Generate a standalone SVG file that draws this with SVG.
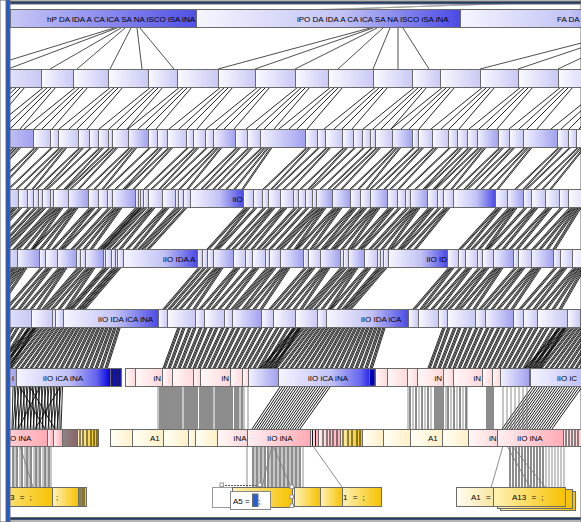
<svg xmlns="http://www.w3.org/2000/svg" width="581" height="522" viewBox="0 0 581 522">
<defs>
<linearGradient id="gA"><stop offset="0" stop-color="#c8c8f6"/><stop offset="1" stop-color="#5050e6"/></linearGradient>
<linearGradient id="gL"><stop offset="0" stop-color="#fafaff"/><stop offset="1" stop-color="#c8c8f5"/></linearGradient>
<linearGradient id="gM"><stop offset="0" stop-color="#f2f2fe"/><stop offset="1" stop-color="#a0a0ef"/></linearGradient>
<linearGradient id="gS"><stop offset="0" stop-color="#f6f6ff"/><stop offset=".55" stop-color="#c2c2f5"/><stop offset="1" stop-color="#4a4ae6"/></linearGradient>
<linearGradient id="gD"><stop offset="0" stop-color="#f4f4ff"/><stop offset=".55" stop-color="#c0c0f6"/><stop offset=".85" stop-color="#6464ee"/><stop offset="1" stop-color="#0000e0"/></linearGradient>
<linearGradient id="gP"><stop offset="0" stop-color="#fff8f8"/><stop offset="1" stop-color="#ffd8da"/></linearGradient>
<linearGradient id="gK"><stop offset="0" stop-color="#fff0f2"/><stop offset="1" stop-color="#ffaab4"/></linearGradient>
<linearGradient id="gY"><stop offset="0" stop-color="#fffff6"/><stop offset="1" stop-color="#fff0c6"/></linearGradient>
<linearGradient id="gY2"><stop offset="0" stop-color="#fffdf2"/><stop offset="1" stop-color="#fae6a0"/></linearGradient>
<linearGradient id="gG"><stop offset="0" stop-color="#fff2b8"/><stop offset="1" stop-color="#f6c200"/></linearGradient>
<clipPath id="cl"><rect x="10" y="4" width="571" height="513"/></clipPath>
</defs>
<style>
rect{stroke:#6a6a6a;stroke-width:1}
.l{fill:url(#gL)}.m{fill:url(#gM)}.s{fill:url(#gS)}.d{fill:url(#gD)}.a{fill:url(#gA)}.p{fill:url(#gP)}.k{fill:url(#gK)}.y{fill:url(#gY)}.y2{fill:url(#gY2)}.g{fill:url(#gG)}.w{fill:#fff;stroke:#9a9a9a}
.sl{stroke:#1a1a1a;stroke-width:1;fill:none}
text{font-family:"Liberation Sans",Arial,sans-serif;font-size:8px;fill:#000}
.e{text-anchor:end}.mid{text-anchor:middle}.ws{word-spacing:3px}
.c path{fill:none;stroke:#000;stroke-width:.85}
.c .gr{stroke:#7a7a7a}
</style>
<rect x="0" y="0" width="581" height="522" fill="#fff" stroke="none"/>
<g clip-path="url(#cl)">
<g id="connectors" class="c">
<path id="e01" style="stroke:#666" d="M318 10L520 3"/>
<path id="e02" style="stroke:#b0b0b0" d="M300 10L600 1"/>
<path id="e12" style="stroke:#222;stroke-width:.8" d="M114 28L-19 69M117 28L8 69M121 28L50 69M125 28L77 69M131 28L110 69M137 28L142 69M140 28L174 69M370 28L218 69M373 28L255 69M377 28L295 69M383 28L338 69M390 28L373 69M398 28L398 69M403 28L429 69M640 28L480 69M640 28L518 69M645 28L558 69"/>
<path id="e23" d="M13 87L-39 129M17 87L-29 129M21 87L-21 129M25 87L-11 129M44 87L-8 129M48 87L2 129M52 87L10 129M56 87L20 129M76 87L24 129M80 87L34 129M84 87L42 129M88 87L52 129M111 87L59 129M115 87L69 129M119 87L77 129M123 87L87 129M151 87L99 129M155 87L109 129M159 87L117 129M163 87L127 129M180 87L128 129M184 87L138 129M188 87L146 129M192 87L156 129M221 87L169 129M225 87L179 129M229 87L187 129M233 87L197 129M258 87L206 129M262 87L216 129M266 87L224 129M270 87L234 129M298 87L246 129M302 87L256 129M306 87L264 129M310 87L274 129M331 87L279 129M335 87L289 129M339 87L297 129M343 87L307 129M376 87L324 129M380 87L334 129M384 87L342 129M388 87L352 129M415 87L363 129M419 87L373 129M423 87L381 129M427 87L391 129M443 87L391 129M447 87L401 129M451 87L409 129M455 87L419 129M483 87L431 129M487 87L441 129M491 87L449 129M495 87L459 129M521 87L469 129M525 87L479 129M529 87L487 129M533 87L497 129M561 87L509 129M565 87L519 129M569 87L527 129M573 87L537 129M603 87L551 129M607 87L561 129M611 87L569 129M615 87L579 129"/>
<path id="e34" d="M14 147L-30 189M17 147L-25 189M20 147L-19 189M35 147L-9 189M38 147L-1 189M52 147L8 189M60 147L16 189M63 147L24 189M66 147L32 189M80 147L36 189M83 147L44 189M91 147L47 189M100 147L56 189M103 147L64 189M110 147L66 189M114 147L70 189M117 147L78 189M130 147L86 189M133 147L94 189M136 147L102 189M150 147L106 189M159 147L115 189M162 147L123 189M169 147L125 189M172 147L133 189M188 147L144 189M195 147L151 189M198 147L159 189M207 147L163 189M215 147L171 189M218 147L179 189M221 147L187 189M237 147L193 189M240 147L201 189M249 147L205 189M252 147L213 189M262 147L218 189M265 147L226 189M268 147L234 189M271 147L242 189M307 147L263 189M310 147L271 189M319 147L275 189M327 147L283 189M330 147L291 189M344 147L300 189M347 147L308 189M355 147L311 189M364 147L320 189M372 147L328 189M377 147L333 189M380 147L341 189M394 147L350 189M397 147L358 189M400 147L366 189M414 147L370 189M420 147L376 189M423 147L384 189M434 147L390 189M437 147L398 189M450 147L406 189M459 147L415 189M462 147L423 189M469 147L425 189M472 147L433 189M479 147L435 189M482 147L443 189M485 147L451 189M500 147L456 189M503 147L464 189M511 147L467 189M514 147L475 189M525 147L481 189M528 147L489 189M531 147L497 189M559 147L515 189M562 147L523 189M570 147L526 189M578 147L534 189M581 147L542 189M584 147L550 189"/>
<use href="#e34" x="1.4"/>
<path id="e45" d="M12 207L-26 249M15 207L-19 249M20 207L-18 249M29 207L-9 249M35 207L-3 249M40 207L2 249M44 207L6 249M51 207L13 249M55 207L17 249M58 207L24 249M61 207L31 249M70 207L32 249M73 207L39 249M76 207L46 249M90 207L52 249M93 207L59 249M100 207L62 249M109 207L71 249M114 207L76 249M117 207L83 249M120 207L90 249M136 207L98 249M139 207L101 249M141 207L103 249M145 207L107 249M150 207L112 249M153 207L119 249M164 207L126 249M167 207L133 249M176 207L138 249M180 207L142 249M185 207L147 249M245 207L207 249M248 207L214 249M255 207L217 249M264 207L226 249M270 207L232 249M273 207L239 249M282 207L244 249M285 207L251 249M295 207L257 249M300 207L262 249M307 207L269 249M314 207L276 249M318 207L280 249M321 207L287 249M324 207L294 249M334 207L296 249M337 207L303 249M340 207L310 249M352 207L314 249M355 207L321 249M362 207L324 249M365 207L331 249M372 207L334 249M375 207L341 249M378 207L348 249M389 207L351 249M392 207L358 249M399 207L361 249M407 207L369 249M412 207L374 249M415 207L381 249M418 207L388 249M429 207L391 249M432 207L398 249M439 207L401 249M445 207L407 249M448 207L414 249M497 207L459 249M500 207L466 249M509 207L471 249M512 207L478 249M515 207L485 249M525 207L487 249M533 207L495 249M536 207L502 249M547 207L509 249M550 207L516 249M561 207L523 249M570 207L532 249M573 207L539 249M576 207L546 249M579 207L553 249"/>
<use href="#e45" x="1.3"/>
<use href="#e45" x="2.6"/>
<path id="e56" d="M12 267L-24 309M15 267L-17 309M19 267L-17 309M22 267L-10 309M25 267L-3 309M41 267L5 309M47 267L11 309M50 267L18 309M59 267L23 309M62 267L30 309M65 267L37 309M78 267L42 309M82 267L46 309M87 267L51 309M90 267L58 309M93 267L65 309M104 267L68 309M107 267L71 309M113 267L77 309M116 267L80 309M119 267L83 309M199 267L163 309M204 267L168 309M209 267L173 309M215 267L179 309M218 267L186 309M221 267L193 309M235 267L199 309M238 267L206 309M247 267L211 309M254 267L218 309M257 267L225 309M267 267L231 309M271 267L235 309M274 267L242 309M282 267L246 309M285 267L253 309M288 267L260 309M305 267L269 309M310 267L274 309M313 267L281 309M322 267L286 309M325 267L293 309M328 267L300 309M341 267L305 309M345 267L309 309M350 267L314 309M353 267L321 309M356 267L328 309M366 267L330 309M369 267L337 309M378 267L342 309M381 267L345 309M385 267L349 309M449 267L413 309M452 267L420 309M460 267L424 309M467 267L431 309M470 267L438 309M479 267L443 309M484 267L448 309M487 267L455 309M495 267L459 309M498 267L466 309M501 267L473 309M515 267L479 309M520 267L484 309M523 267L491 309M533 267L497 309M536 267L504 309M539 267L511 309M555 267L519 309M562 267L526 309M565 267L533 309M574 267L538 309M577 267L545 309M580 267L552 309M583 267L559 309"/>
<use href="#e56" x="1.3"/>
<use href="#e56" x="2.6"/>
<path id="e67" d="M30 327L-5 368M34 327L0 368M38 327L5 368M42 327L10 368M46 327L15 368M50 327L20 368M54 327L25 368M58 327L30 368M62 327L35 368M66 327L40 368M70 327L45 368M74 327L50 368M78 327L55 368M82 327L60 368M86 327L65 368M90 327L70 368M94 327L75 368M98 327L80 368M102 327L85 368M106 327L90 368M110 327L95 368M114 327L100 368M118 327L105 368M295 327L260 368M299 327L265 368M303 327L270 368M307 327L275 368M311 327L280 368M315 327L285 368M319 327L290 368M323 327L295 368M327 327L300 368M331 327L305 368M335 327L310 368M339 327L315 368M343 327L320 368M347 327L325 368M351 327L330 368M355 327L335 368M359 327L340 368M363 327L345 368M367 327L350 368M371 327L355 368M375 327L360 368M379 327L365 368M383 327L370 368M560 327L525 368M564 327L530 368M568 327L535 368M572 327L540 368M576 327L545 368M580 327L550 368M584 327L555 368M588 327L560 368M592 327L565 368M596 327L570 368M600 327L575 368M604 327L580 368M178 327L163 368M183 327L168 368M189 327L173 368M194 327L178 368M200 327L183 368M205 327L188 368M211 327L193 368M216 327L198 368M222 327L203 368M227 327L208 368M233 327L213 368M238 327L218 368M244 327L223 368M249 327L228 368M255 327L233 368M260 327L238 368M266 327L243 368M271 327L248 368M277 327L253 368M282 327L258 368M288 327L263 368M293 327L268 368M299 327L273 368M443 327L428 368M448 327L433 368M454 327L438 368M459 327L443 368M465 327L448 368M470 327L453 368M476 327L458 368M481 327L463 368M487 327L468 368M492 327L473 368M498 327L478 368M503 327L483 368M509 327L488 368M514 327L493 368M520 327L498 368M525 327L503 368M531 327L508 368M536 327L513 368M542 327L518 368M547 327L523 368M553 327L528 368M558 327L533 368M564 327L538 368M12 327L-12 368M17 327L-7 368M23 327L-2 368M28 327L3 368M34 327L8 368"/>
<use href="#e67" x="1.2"/>
<use href="#e67" x="2.4"/>
<path id="e78L" d="M13 387L12 429M14.5 387L16 429M16 387L13 429M17.5 387L19 429M19 387L15 429M20.5 387L22 429M22 387L18 429M23.5 387L25 429M25 387L21 429M26.5 387L28 429M28 387L24 429M29.5 387L31 429M31 387L27 429M32.5 387L34 429M34 387L30 429M35.5 387L37 429M37 387L33 429M38.5 387L40 429M40 387L36 429M41.5 387L43 429M43 387L39 429M44.5 387L46 429M46 387L42 429M47.5 387L49 429M49 387L45 429M50.5 387L52 429M52 387L48 429M53.5 387L55 429M55 387L51 429M56.5 387L58 429M58 387L54 429M59.5 387L60 429M61 387L57 429M62.5 387L61 429M20 387L45 429M40 387L18 429M60 387L35 429M30 387L55 429"/>
<path id="e78" style="stroke-width:.9" d="M160 387V429M163 387V429M166 387V429M169 387V429M172 387V429M175 387V429M178 387V429M181 387V429M185 387V429M187 387V429M189 387V429M191 387V429M193 387V429M195 387V429M197 387V429M200 387V429M203 387V429M206 387V429M209 387V429M212 387V429M216 387V429M218 387V429M220 387V429M222 387V429M224 387V429M226 387V429M228 387V429M230 387V429M232 387V429M235 387V429M238 387V429M242 387V429M280 387L252 429M282.5 387L254.4 429M285 387L256.8 429M287.5 387L259.2 429M290 387L261.6 429M292.5 387L264 429M295 387L266.4 429M297.5 387L268.8 429M300 387L271.2 429M302.5 387L273.6 429M305 387L276 429M307.5 387L278.4 429M310 387L280.8 429M312.5 387L283.2 429M315 387L285.6 429M317.5 387L288 429M320 387L290.4 429M322.5 387L292.8 429M325 387L295.2 429M327.5 387L297.6 429M330 387L300 429M410 387V429M416 387V429M422 387V429M428 387V429M435 387V429M437 387V429M439 387V429M441 387V429M443 387V429M448 387V429M454 387V429M460 387V429M466 387V429M487 387V429M489 387V429M491 387V429M493 387V429M532 387L502 429M534.5 387L504.5 429M537 387L507 429M539.5 387L509.5 429M542 387L512 429M544.5 387L514.5 429M547 387L517 429M549.5 387L519.5 429M552 387L522 429M554.5 387L524.5 429M557 387L527 429M559.5 387L529.5 429M562 387L532 429M564.5 387L534.5 429M567 387L537 429M569.5 387L539.5 429M572 387L542 429M574.5 387L544.5 429M577 387L547 429M579.5 387L549.5 429M582 387L552 429"/>
<path id="e78g" class="gr" d="M158 387V429M161.5 387V429M164.5 387V429M167.5 387V429M170.5 387V429M173.5 387V429M176.5 387V429M179.5 387V429M183 387V429M201.5 387V429M204.5 387V429M207.5 387V429M210.5 387V429M214 387V429M236.5 387V429M240 387V429M244 387V429M248 387V429M408 387V429M413 387V429M419 387V429M425 387V429M431 387V429M446 387V429M451 387V429M457 387V429M463 387V429M467 387V429M503 387V429M507 387V429M511 387V429M515 387V429M519 387V429M523 387V429M527 387V429"/>
<path id="e89" style="stroke-width:.9" d="M13 446V487M17 446V487M22 446V487M27 446V487M31 446V487M36 446V487M40 446V487M45 446V487M49 446V487M253 446V487M257 446V487M261 446V487M265 446V487M268 446V487M272 446V487M276 446V487M280 446V487M284 446V487M288 446V487M292 446V487M296 446V487M300 446V487M510 446V487M513 446V487M516 446V487M519 446V487M522 446V487M525 446V487M528 446V487M531 446V487M534 446V487M537 446V487M540 446V487M543 446V487"/>
<path id="e89g" class="gr" d="M15 446V487M20 446V487M25 446V487M29 446V487M34 446V487M38 446V487M43 446V487M47 446V487M51 446V487M20 446L33 487M247 446V487M255 446V487M259 446V487M263 446V487M270 446V487M274 446V487M278 446V487M282 446V487M286 446V487M290 446V487M294 446V487M298 446V487M303 446V487M272 446L262 487M273 446L291 487M313 446L342 487M503 446L491 488M546 446V487M549 446V487M552 446V487M555 446V487M558 446V487M561 446V487M564 446V487M507 446L530 487M512 446L545 487"/>
</g>
<g id="row1">
<g id="n1a"><rect class="a" x="10.5" y="9.5" width="186" height="18"/><text class="e" x="195" y="22">hP DA IDA A CA iCA SA NA iSCO iSA iNA</text></g>
<g id="n1b"><rect class="s" x="196.5" y="9.5" width="264" height="18"/><text x="297" y="22">iPO DA IDA A CA iCA SA NA iSCO iSA iNA</text></g>
<g id="n1c"><rect class="s" x="460.5" y="9.5" width="200" height="18"/><text x="557" y="22">FA DA</text></g>
</g>
<g id="row2">
<g id="r2-1"><rect class="l" x="-21.5" y="69.5" width="63" height="18"/></g>
<g id="r2-2"><rect class="l" x="41.5" y="69.5" width="32" height="18"/></g>
<g id="r2-3"><rect class="l" x="73.5" y="69.5" width="35" height="18"/></g>
<g id="r2-4"><rect class="l" x="108.5" y="69.5" width="40" height="18"/></g>
<g id="r2-5"><rect class="l" x="148.5" y="69.5" width="29" height="18"/></g>
<g id="r2-6"><rect class="l" x="177.5" y="69.5" width="41" height="18"/></g>
<g id="r2-7"><rect class="l" x="218.5" y="69.5" width="37" height="18"/></g>
<g id="r2-8"><rect class="l" x="255.5" y="69.5" width="40" height="18"/></g>
<g id="r2-9"><rect class="l" x="295.5" y="69.5" width="33" height="18"/></g>
<g id="r2-10"><rect class="l" x="328.5" y="69.5" width="45" height="18"/></g>
<g id="r2-11"><rect class="l" x="373.5" y="69.5" width="39" height="18"/></g>
<g id="r2-12"><rect class="l" x="412.5" y="69.5" width="28" height="18"/></g>
<g id="r2-13"><rect class="l" x="440.5" y="69.5" width="40" height="18"/></g>
<g id="r2-14"><rect class="l" x="480.5" y="69.5" width="38" height="18"/></g>
<g id="r2-15"><rect class="l" x="518.5" y="69.5" width="40" height="18"/></g>
<g id="r2-16"><rect class="l" x="558.5" y="69.5" width="42" height="18"/></g>
</g>
<g id="row3">
<g id="r3-1"><rect class="m" x="-29.5" y="129.5" width="63" height="18"/></g>
<g id="r3-2"><rect class="l" x="33.5" y="129.5" width="17" height="18"/></g>
<g id="r3-3"><rect class="l" x="50.5" y="129.5" width="8" height="18"/></g>
<g id="r3-4"><rect class="l" x="58.5" y="129.5" width="20" height="18"/></g>
<g id="r3-5"><rect class="l" x="78.5" y="129.5" width="11" height="18"/></g>
<g id="r3-6"><rect class="l" x="89.5" y="129.5" width="9" height="18"/></g>
<g id="r3-7"><rect class="l" x="98.5" y="129.5" width="10" height="18"/></g>
<g id="r3-8"><rect class="l" x="108.5" y="129.5" width="4" height="18"/></g>
<g id="r3-9"><rect class="l" x="112.5" y="129.5" width="16" height="18"/></g>
<g id="r3-10"><rect class="m" x="128.5" y="129.5" width="20" height="18"/></g>
<g id="r3-11"><rect class="l" x="148.5" y="129.5" width="9" height="18"/></g>
<g id="r3-12"><rect class="l" x="157.5" y="129.5" width="10" height="18"/></g>
<g id="r3-13"><rect class="l" x="167.5" y="129.5" width="19" height="18"/></g>
<g id="r3-14"><rect class="l" x="186.5" y="129.5" width="7" height="18"/></g>
<g id="r3-15"><rect class="l" x="193.5" y="129.5" width="12" height="18"/></g>
<g id="r3-16"><rect class="l" x="205.5" y="129.5" width="8" height="18"/></g>
<g id="r3-17"><rect class="m" x="213.5" y="129.5" width="22" height="18"/></g>
<g id="r3-18"><rect class="l" x="235.5" y="129.5" width="12" height="18"/></g>
<g id="r3-19"><rect class="l" x="247.5" y="129.5" width="13" height="18"/></g>
<g id="r3-20"><rect class="m" x="260.5" y="129.5" width="45" height="18"/></g>
<g id="r3-21"><rect class="l" x="305.5" y="129.5" width="12" height="18"/></g>
<g id="r3-22"><rect class="l" x="317.5" y="129.5" width="8" height="18"/></g>
<g id="r3-23"><rect class="l" x="325.5" y="129.5" width="17" height="18"/></g>
<g id="r3-24"><rect class="l" x="342.5" y="129.5" width="11" height="18"/></g>
<g id="r3-25"><rect class="l" x="353.5" y="129.5" width="9" height="18"/></g>
<g id="r3-26"><rect class="l" x="362.5" y="129.5" width="8" height="18"/></g>
<g id="r3-27"><rect class="l" x="370.5" y="129.5" width="5" height="18"/></g>
<g id="r3-28"><rect class="l" x="375.5" y="129.5" width="17" height="18"/></g>
<g id="r3-29"><rect class="m" x="392.5" y="129.5" width="20" height="18"/></g>
<g id="r3-30"><rect class="l" x="412.5" y="129.5" width="6" height="18"/></g>
<g id="r3-31"><rect class="l" x="418.5" y="129.5" width="14" height="18"/></g>
<g id="r3-32"><rect class="l" x="432.5" y="129.5" width="16" height="18"/></g>
<g id="r3-33"><rect class="l" x="448.5" y="129.5" width="9" height="18"/></g>
<g id="r3-34"><rect class="l" x="457.5" y="129.5" width="10" height="18"/></g>
<g id="r3-35"><rect class="l" x="467.5" y="129.5" width="10" height="18"/></g>
<g id="r3-36"><rect class="m" x="477.5" y="129.5" width="21" height="18"/></g>
<g id="r3-37"><rect class="l" x="498.5" y="129.5" width="11" height="18"/></g>
<g id="r3-38"><rect class="l" x="509.5" y="129.5" width="14" height="18"/></g>
<g id="r3-39"><rect class="m" x="523.5" y="129.5" width="34" height="18"/></g>
<g id="r3-40"><rect class="l" x="557.5" y="129.5" width="11" height="18"/></g>
<g id="r3-41"><rect class="l" x="568.5" y="129.5" width="8" height="18"/></g>
<g id="r3-42"><rect class="l" x="576.5" y="129.5" width="24" height="18"/></g>
</g>
<g id="row4">
<g id="r4-1"><rect class="l" x="-4.5" y="189.5" width="23" height="18"/></g>
<g id="r4-2"><rect class="l" x="18.5" y="189.5" width="9" height="18"/></g>
<g id="r4-3"><rect class="l" x="27.5" y="189.5" width="6" height="18"/></g>
<g id="r4-4"><rect class="l" x="33.5" y="189.5" width="5" height="18"/></g>
<g id="r4-5"><rect class="l" x="38.5" y="189.5" width="4" height="18"/></g>
<g id="r4-6"><rect class="l" x="42.5" y="189.5" width="8" height="18"/></g>
<g id="r4-7"><rect class="l" x="50.5" y="189.5" width="3" height="18"/></g>
<g id="r4-8"><rect class="l" x="53.5" y="189.5" width="15" height="18"/></g>
<g id="r4-9"><rect class="m" x="68.5" y="189.5" width="20" height="18"/></g>
<g id="r4-10"><rect class="l" x="88.5" y="189.5" width="10" height="18"/></g>
<g id="r4-11"><rect class="l" x="98.5" y="189.5" width="9" height="18"/></g>
<g id="r4-12"><rect class="l" x="107.5" y="189.5" width="5" height="18"/></g>
<g id="r4-13"><rect class="m" x="112.5" y="189.5" width="23" height="18"/></g>
<g id="r4-14"><rect class="l" x="135.5" y="189.5" width="3" height="18"/></g>
<g id="r4-15"><rect class="l" x="138.5" y="189.5" width="2" height="18"/></g>
<g id="r4-16"><rect class="l" x="140.5" y="189.5" width="3" height="18"/></g>
<g id="r4-17"><rect class="l" x="143.5" y="189.5" width="5" height="18"/></g>
<g id="r4-18"><rect class="l" x="148.5" y="189.5" width="14" height="18"/></g>
<g id="r4-19"><rect class="l" x="162.5" y="189.5" width="13" height="18"/></g>
<g id="r4-20"><rect class="l" x="175.5" y="189.5" width="3" height="18"/></g>
<g id="r4-21"><rect class="l" x="178.5" y="189.5" width="5" height="18"/></g>
<g id="r4-22"><rect class="l" x="183.5" y="189.5" width="7" height="18"/></g>
<g id="r4-23"><rect class="s" x="190.5" y="189.5" width="53" height="18"/><text x="232.5" y="201.5">iIO</text></g>
<g id="r4-24"><rect class="l" x="243.5" y="189.5" width="10" height="18"/></g>
<g id="r4-25"><rect class="l" x="253.5" y="189.5" width="9" height="18"/></g>
<g id="r4-26"><rect class="l" x="262.5" y="189.5" width="6" height="18"/></g>
<g id="r4-27"><rect class="l" x="268.5" y="189.5" width="12" height="18"/></g>
<g id="r4-28"><rect class="l" x="280.5" y="189.5" width="13" height="18"/></g>
<g id="r4-29"><rect class="l" x="293.5" y="189.5" width="5" height="18"/></g>
<g id="r4-30"><rect class="l" x="298.5" y="189.5" width="7" height="18"/></g>
<g id="r4-31"><rect class="l" x="305.5" y="189.5" width="7" height="18"/></g>
<g id="r4-32"><rect class="l" x="312.5" y="189.5" width="4" height="18"/></g>
<g id="r4-33"><rect class="m" x="316.5" y="189.5" width="16" height="18"/></g>
<g id="r4-34"><rect class="m" x="332.5" y="189.5" width="18" height="18"/></g>
<g id="r4-35"><rect class="l" x="350.5" y="189.5" width="10" height="18"/></g>
<g id="r4-36"><rect class="l" x="360.5" y="189.5" width="10" height="18"/></g>
<g id="r4-37"><rect class="m" x="370.5" y="189.5" width="17" height="18"/></g>
<g id="r4-38"><rect class="l" x="387.5" y="189.5" width="10" height="18"/></g>
<g id="r4-39"><rect class="l" x="397.5" y="189.5" width="8" height="18"/></g>
<g id="r4-40"><rect class="l" x="405.5" y="189.5" width="5" height="18"/></g>
<g id="r4-41"><rect class="m" x="410.5" y="189.5" width="17" height="18"/></g>
<g id="r4-42"><rect class="l" x="427.5" y="189.5" width="10" height="18"/></g>
<g id="r4-43"><rect class="l" x="437.5" y="189.5" width="6" height="18"/></g>
<g id="r4-44"><rect class="l" x="443.5" y="189.5" width="10" height="18"/></g>
<g id="r4-45"><rect class="s" x="453.5" y="189.5" width="42" height="18"/></g>
<g id="r4-46"><rect class="l" x="495.5" y="189.5" width="12" height="18"/></g>
<g id="r4-47"><rect class="m" x="507.5" y="189.5" width="16" height="18"/></g>
<g id="r4-48"><rect class="l" x="523.5" y="189.5" width="8" height="18"/></g>
<g id="r4-49"><rect class="l" x="531.5" y="189.5" width="14" height="18"/></g>
<g id="r4-50"><rect class="l" x="545.5" y="189.5" width="14" height="18"/></g>
<g id="r4-51"><rect class="l" x="559.5" y="189.5" width="9" height="18"/></g>
<g id="r4-52"><rect class="l" x="568.5" y="189.5" width="32" height="18"/></g>
</g>
<g id="row5">
<g id="r5-1"><rect class="l" x="-4.5" y="249.5" width="22" height="18"/></g>
<g id="r5-2"><rect class="m" x="17.5" y="249.5" width="22" height="18"/></g>
<g id="r5-3"><rect class="l" x="39.5" y="249.5" width="6" height="18"/></g>
<g id="r5-4"><rect class="l" x="45.5" y="249.5" width="12" height="18"/></g>
<g id="r5-5"><rect class="m" x="57.5" y="249.5" width="19" height="18"/></g>
<g id="r5-6"><rect class="l" x="76.5" y="249.5" width="4" height="18"/></g>
<g id="r5-7"><rect class="l" x="80.5" y="249.5" width="5" height="18"/></g>
<g id="r5-8"><rect class="m" x="85.5" y="249.5" width="18" height="18"/></g>
<g id="r5-9"><rect class="l" x="103.5" y="249.5" width="2" height="18"/></g>
<g id="r5-10"><rect class="l" x="105.5" y="249.5" width="6" height="18"/></g>
<g id="r5-11"><rect class="l" x="111.5" y="249.5" width="4" height="18"/></g>
<g id="r5-12"><rect class="l" x="115.5" y="249.5" width="2" height="18"/></g>
<g id="r5-13"><rect class="l" x="117.5" y="249.5" width="6" height="18"/></g>
<g id="r5-14"><rect class="s" x="123.5" y="249.5" width="74" height="18"/><text x="163" y="261.5">iIO IDA A</text></g>
<g id="r5-15"><rect class="l" x="197.5" y="249.5" width="5" height="18"/></g>
<g id="r5-16"><rect class="l" x="202.5" y="249.5" width="5" height="18"/></g>
<g id="r5-17"><rect class="l" x="207.5" y="249.5" width="6" height="18"/></g>
<g id="r5-18"><rect class="m" x="213.5" y="249.5" width="20" height="18"/></g>
<g id="r5-19"><rect class="l" x="233.5" y="249.5" width="12" height="18"/></g>
<g id="r5-20"><rect class="l" x="245.5" y="249.5" width="7" height="18"/></g>
<g id="r5-21"><rect class="l" x="252.5" y="249.5" width="13" height="18"/></g>
<g id="r5-22"><rect class="l" x="265.5" y="249.5" width="4" height="18"/></g>
<g id="r5-23"><rect class="l" x="269.5" y="249.5" width="11" height="18"/></g>
<g id="r5-24"><rect class="m" x="280.5" y="249.5" width="23" height="18"/></g>
<g id="r5-25"><rect class="l" x="303.5" y="249.5" width="5" height="18"/></g>
<g id="r5-26"><rect class="l" x="308.5" y="249.5" width="12" height="18"/></g>
<g id="r5-27"><rect class="m" x="320.5" y="249.5" width="20" height="18"/></g>
<g id="r5-28"><rect class="l" x="340.5" y="249.5" width="3" height="18"/></g>
<g id="r5-29"><rect class="l" x="343.5" y="249.5" width="5" height="18"/></g>
<g id="r5-30"><rect class="m" x="348.5" y="249.5" width="16" height="18"/></g>
<g id="r5-31"><rect class="l" x="364.5" y="249.5" width="13" height="18"/></g>
<g id="r5-32"><rect class="l" x="377.5" y="249.5" width="3" height="18"/></g>
<g id="r5-33"><rect class="l" x="380.5" y="249.5" width="3" height="18"/></g>
<g id="r5-34"><rect class="l" x="383.5" y="249.5" width="5" height="18"/></g>
<g id="r5-35"><rect class="s" x="388.5" y="249.5" width="59" height="18"/><text x="426.5" y="261.5">iIO ID</text></g>
<g id="r5-36"><rect class="l" x="447.5" y="249.5" width="11" height="18"/></g>
<g id="r5-37"><rect class="l" x="458.5" y="249.5" width="7" height="18"/></g>
<g id="r5-38"><rect class="l" x="465.5" y="249.5" width="12" height="18"/></g>
<g id="r5-39"><rect class="l" x="477.5" y="249.5" width="5" height="18"/></g>
<g id="r5-40"><rect class="l" x="482.5" y="249.5" width="11" height="18"/></g>
<g id="r5-41"><rect class="m" x="493.5" y="249.5" width="20" height="18"/></g>
<g id="r5-42"><rect class="l" x="513.5" y="249.5" width="5" height="18"/></g>
<g id="r5-43"><rect class="l" x="518.5" y="249.5" width="13" height="18"/></g>
<g id="r5-44"><rect class="m" x="531.5" y="249.5" width="22" height="18"/></g>
<g id="r5-45"><rect class="l" x="553.5" y="249.5" width="7" height="18"/></g>
<g id="r5-46"><rect class="l" x="560.5" y="249.5" width="12" height="18"/></g>
<g id="r5-47"><rect class="l" x="572.5" y="249.5" width="28" height="18"/></g>
</g>
<g id="row6">
<g id="r6-1"><rect class="l" x="-19.5" y="309.5" width="51" height="18"/></g>
<g id="r6-2"><rect class="l" x="31.5" y="309.5" width="21" height="18"/></g>
<g id="r6-3"><rect class="l" x="52.5" y="309.5" width="3" height="18"/></g>
<g id="r6-4"><rect class="l" x="55.5" y="309.5" width="8" height="18"/></g>
<g id="r6-5"><rect class="s" x="63.5" y="309.5" width="95" height="18"/><text x="98" y="321.5">iIO IDA iCA iNA</text></g>
<g id="r6-6"><rect class="l" x="158.5" y="309.5" width="9" height="18"/></g>
<g id="r6-7"><rect class="l" x="167.5" y="309.5" width="28" height="18"/></g>
<g id="r6-8"><rect class="l" x="195.5" y="309.5" width="9" height="18"/></g>
<g id="r6-9"><rect class="l" x="204.5" y="309.5" width="20" height="18"/></g>
<g id="r6-10"><rect class="l" x="224.5" y="309.5" width="8" height="18"/></g>
<g id="r6-11"><rect class="m" x="232.5" y="309.5" width="29" height="18"/></g>
<g id="r6-12"><rect class="l" x="261.5" y="309.5" width="12" height="18"/></g>
<g id="r6-13"><rect class="l" x="273.5" y="309.5" width="22" height="18"/></g>
<g id="r6-14"><rect class="l" x="295.5" y="309.5" width="22" height="18"/></g>
<g id="r6-15"><rect class="l" x="317.5" y="309.5" width="9" height="18"/></g>
<g id="r6-16"><rect class="s" x="326.5" y="309.5" width="82" height="18"/><text x="361" y="321.5">iIO IDA iCA</text></g>
<g id="r6-17"><rect class="l" x="408.5" y="309.5" width="10" height="18"/></g>
<g id="r6-18"><rect class="l" x="418.5" y="309.5" width="20" height="18"/></g>
<g id="r6-19"><rect class="l" x="438.5" y="309.5" width="9" height="18"/></g>
<g id="r6-20"><rect class="l" x="447.5" y="309.5" width="28" height="18"/></g>
<g id="r6-21"><rect class="l" x="475.5" y="309.5" width="10" height="18"/></g>
<g id="r6-22"><rect class="m" x="485.5" y="309.5" width="28" height="18"/></g>
<g id="r6-23"><rect class="l" x="513.5" y="309.5" width="10" height="18"/></g>
<g id="r6-24"><rect class="l" x="523.5" y="309.5" width="14" height="18"/></g>
<g id="r6-25"><rect class="l" x="537.5" y="309.5" width="30" height="18"/></g>
<g id="r6-26"><rect class="l" x="567.5" y="309.5" width="13" height="18"/></g>
<g id="r6-27"><rect class="l" x="580.5" y="309.5" width="20" height="18"/></g>
</g>
<g id="row7">
<g id="r7-1"><rect class="m" x="-9.5" y="368.5" width="26" height="18"/><text x="12" y="380.5">i</text></g>
<g id="r7-2"><rect class="d" x="16.5" y="368.5" width="94" height="18"/><text class="mid" x="63" y="380.5">iIO iCA iNA</text></g>
<g id="r7-3"><rect x="110.5" y="368.5" width="11" height="18" fill="#1414c8"/><path class="sl" d="M113 369V386M116 369V386M119 369V386"/></g>
<g id="r7-4"><rect class="p" x="125.5" y="368.5" width="10" height="18"/></g>
<g id="r7-5"><rect class="p" x="135.5" y="368.5" width="27" height="18"/><text class="e" x="161" y="380.5">iN</text></g>
<g id="r7-6"><rect class="p" x="162.5" y="368.5" width="10" height="18"/></g>
<g id="r7-7"><rect class="p" x="172.5" y="368.5" width="21" height="18"/></g>
<g id="r7-8"><rect class="p" x="193.5" y="368.5" width="7" height="18"/></g>
<g id="r7-9"><rect class="p" x="200.5" y="368.5" width="30" height="18"/><text class="e" x="229" y="380.5">iN</text></g>
<g id="r7-10"><rect class="p" x="230.5" y="368.5" width="12" height="18"/></g>
<g id="r7-11"><rect class="p" x="242.5" y="368.5" width="6" height="18"/></g>
<g id="r7-12"><rect class="m" x="248.5" y="368.5" width="30" height="18"/></g>
<g id="r7-13"><rect class="d" x="278.5" y="368.5" width="97" height="18"/><rect x="369.5" y="369" width="5.5" height="17" fill="#0000b8" stroke="none"/><text class="mid" x="328" y="380.5">iIO iCA iNA</text></g>
<g id="r7-14"><rect class="p" x="375.5" y="368.5" width="12" height="18"/></g>
<g id="r7-15"><rect class="p" x="387.5" y="368.5" width="20" height="18"/></g>
<g id="r7-16"><rect class="p" x="407.5" y="368.5" width="10" height="18"/></g>
<g id="r7-17"><rect class="p" x="417.5" y="368.5" width="26" height="18"/><text class="e" x="442" y="380.5">iN</text></g>
<g id="r7-18"><rect class="p" x="443.5" y="368.5" width="10" height="18"/></g>
<g id="r7-19"><rect class="p" x="453.5" y="368.5" width="29" height="18"/><text class="e" x="481" y="380.5">iN</text></g>
<g id="r7-20"><rect class="p" x="482.5" y="368.5" width="10" height="18"/></g>
<g id="r7-21"><rect class="p" x="492.5" y="368.5" width="8" height="18"/></g>
<g id="r7-22"><rect class="m" x="500.5" y="368.5" width="29" height="18"/></g>
<g id="r7-23"><rect class="d" x="530.5" y="368.5" width="95" height="18"/><text x="557" y="380.5">iIO iC</text></g>
</g>
<g id="row8">
<g id="r8-1"><rect class="k" x="-29.5" y="429.5" width="77" height="17"/><text x="10" y="440.5">O iNA</text></g>
<g id="r8-2"><rect class="k" x="47.5" y="429.5" width="6" height="17"/></g>
<g id="r8-3"><rect class="k" x="53.5" y="429.5" width="9" height="17"/></g>
<g id="r8-4"><rect class="k" x="62.5" y="429.5" width="15" height="17"/><path class="sl" d="M64 430V446M66 430V446M68 430V446M70 430V446M72 430V446M74 430V446M76 430V446"/></g>
<g id="r8-5"><rect class="g" x="77.5" y="429.5" width="21" height="17"/><path class="sl" d="M80 430V446M83 430V446M87 430V446M91 430V446M94 430V446M97 430V446"/></g>
<g id="r8-6"><rect class="y" x="110.5" y="429.5" width="22" height="17"/></g>
<g id="r8-7"><rect class="y" x="132.5" y="429.5" width="31" height="17"/><text x="150" y="440.5">A1</text></g>
<g id="r8-8"><rect class="y" x="163.5" y="429.5" width="25" height="17"/></g>
<g id="r8-9"><rect class="y" x="188.5" y="429.5" width="7" height="17"/></g>
<g id="r8-10"><rect class="y" x="195.5" y="429.5" width="22" height="17"/></g>
<g id="r8-11"><rect class="p" x="217.5" y="429.5" width="30" height="17"/><text class="e" x="246.5" y="440.5">iNA</text></g>
<g id="r8-12"><rect class="k" x="247.5" y="429.5" width="63" height="17"/><text class="mid" x="280" y="440.5">iIO iNA</text></g>
<g id="r8-13"><rect class="k" x="310.5" y="429.5" width="8" height="17"/><path class="sl" d="M312.5 430V446M315.5 430V446"/></g>
<g id="r8-14"><rect class="k" x="318.5" y="429.5" width="22" height="17"/><path class="sl" d="M323 430V446M327 430V446M330 430V446M333 430V446M337 430V446"/></g>
<g id="r8-15"><rect class="g" x="340.5" y="429.5" width="22" height="17"/><path class="sl" d="M343 430V446M348 430V446M352 430V446M357 430V446M360 430V446"/></g>
<g id="r8-16"><rect class="y" x="362.5" y="429.5" width="21" height="17"/></g>
<g id="r8-17"><rect class="y" x="383.5" y="429.5" width="27" height="17"/></g>
<g id="r8-18"><rect class="y" x="410.5" y="429.5" width="32" height="17"/><text x="428" y="440.5">A1</text></g>
<g id="r8-19"><rect class="y" x="442.5" y="429.5" width="26" height="17"/></g>
<g id="r8-20"><rect class="p" x="468.5" y="429.5" width="29" height="17"/><text class="e" x="496.5" y="440.5">iN</text></g>
<g id="r8-21"><rect class="k" x="497.5" y="429.5" width="66" height="17"/><text class="mid" x="530" y="440.5">iIO iNA</text></g>
<g id="r8-22"><rect class="k" x="563.5" y="429.5" width="37" height="17"/><path class="sl" d="M566 430V446M569 430V446M572 430V446M575 430V446M578 430V446"/></g>
</g>
<g id="row9">
<g id="r9-1"><rect class="g" x="-19.5" y="487.5" width="72" height="19"/><text class="ws" x="10" y="500">3 = ;</text></g>
<g id="r9-2"><rect class="g" x="52.5" y="487.5" width="26" height="19"/><text x="56" y="500">;</text></g>
<g id="r9-3"><rect class="g" x="78.5" y="487.5" width="8" height="19"/><path class="sl" d="M80 488V506M82 488V506M84 488V506"/></g>
<g id="r9-4"><rect class="w" x="212.5" y="487.5" width="20" height="20"/></g>
<g id="r9-5"><rect class="g" x="232.5" y="487.5" width="60" height="20"/></g>
<g id="r9-6"><rect class="w" x="230.5" y="491.5" width="40" height="18" style="stroke:#888"/><rect x="252.5" y="494" width="5.5" height="12.5" fill="#2461d6" stroke="none"/><text x="233" y="504">A5 =</text><text x="258.5" y="504">;</text><path d="M222 485.5H262" stroke="#555" stroke-dasharray="2 1" fill="none"/><rect class="w" x="220" y="483" width="3.5" height="3.5"/><rect class="w" x="258" y="483" width="3.5" height="3.5"/><rect class="w" x="290" y="485" width="3.5" height="3.5"/><rect class="w" x="290" y="495" width="3.5" height="3.5"/><rect class="w" x="290" y="504" width="3.5" height="3.5"/></g>
<g id="r9-7"><rect class="g" x="294.5" y="487.5" width="26" height="19"/></g>
<g id="r9-8"><rect class="g" x="320.5" y="487.5" width="22" height="19"/></g>
<g id="r9-9"><rect class="g" x="342.5" y="487.5" width="39" height="19"/><text class="ws" x="343" y="500">1 = ;</text></g>
<g id="r9-10"><rect class="g" x="500.5" y="491.5" width="75" height="19"/><rect class="g" x="497.5" y="489.5" width="75" height="19"/></g>
<g id="r9-11"><rect class="y2" x="456.5" y="487.5" width="37" height="19"/><text class="ws" x="471" y="500">A1 =</text></g>
<g id="r9-12"><rect class="g" x="493.5" y="487.5" width="72" height="19"/><text class="ws" x="512" y="500">A13 = ;</text></g>
</g>
</g>
<g id="frame">
<rect x="6" y="0" width="4" height="522" fill="#2058d0" stroke="none"/>
<rect x="10" y="1.5" width="571" height="2.5" fill="#1b3c6e" stroke="none"/>
<rect x="10" y="517.5" width="571" height="2.5" fill="#1b3c6e" stroke="none"/>
</g>
</svg>
